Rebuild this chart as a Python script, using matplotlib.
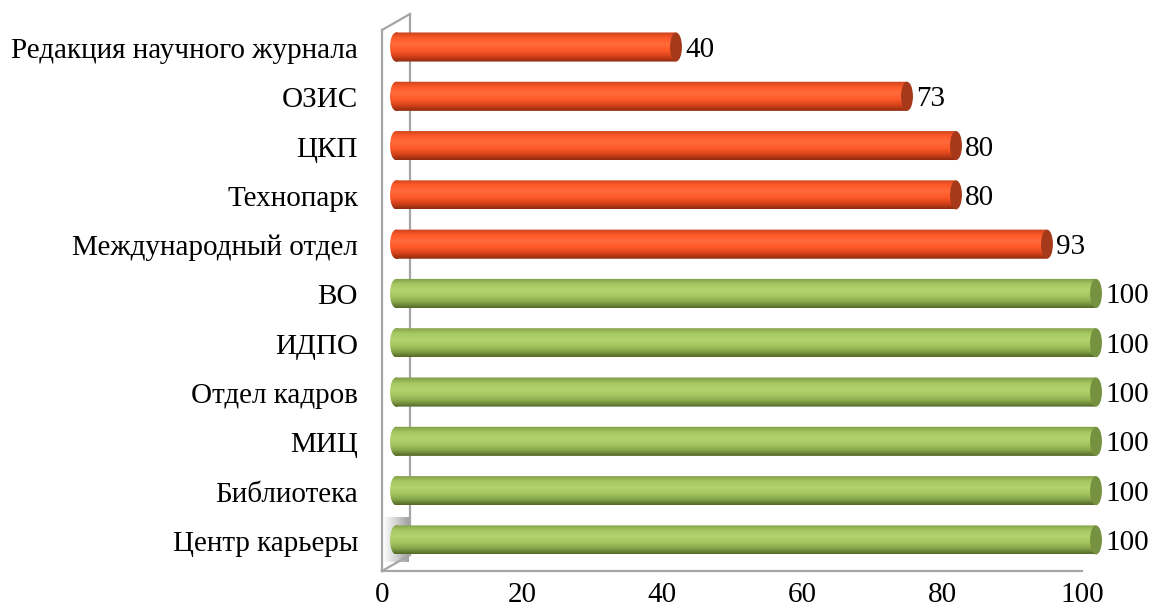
import numpy as np
import matplotlib
matplotlib.use("Agg")
import matplotlib.pyplot as plt
from matplotlib.colors import LinearSegmentedColormap
from matplotlib.patches import Ellipse, PathPatch
from matplotlib.path import Path
from matplotlib.transforms import ScaledTranslation, Affine2D, blended_transform_factory

plt.rcParams['font.family'] = ['Liberation Serif', 'DejaVu Serif']

# departments, bottom to top
labels = ['Центр карьеры', 'Библиотека', 'МИЦ', 'Отдел кадров', 'ИДПО', 'ВО',
          'Международный отдел', 'Технопарк', 'ЦКП', 'ОЗИС',
          'Редакция научного журнала']
values = [100, 100, 100, 100, 100, 100, 93, 80, 80, 73, 40]
ticks = [0, 20, 40, 60, 80, 100]

# vertical shading of the cylinders (bottom -> top), plus end-cap colour
orange_grad = ['#8f2a0e', '#d9441b', '#ff5a2a', '#ff6a3a', '#ff5a2a', '#c9421c']
orange_cap = '#a5391a'
green_grad = ['#55692a', '#88a84a', '#a6c862', '#b2d36e', '#a6c862', '#7e9a45']
green_cap = '#76913f'

W, H = 1150, 608
fig = plt.figure(figsize=(W / 100, H / 100), dpi=100)
fig.patch.set_facecolor('white')

# front plane of the chart: x 0..100 -> px 382..1082, floor at y=571
ax = fig.add_axes([382 / W, 1 - 571 / H, 742 / W, 541 / H])
ax.set_xlim(0, 106)
ax.set_ylim(-0.63, 10.345)
ax.patch.set_visible(False)
for s in ax.spines.values():
    s.set_visible(False)
ax.set_yticks([])
ax.set_xticks(ticks)
ax.set_xticklabels([str(t) for t in ticks], fontsize=21)
ax.tick_params(axis='x', length=0, pad=8)

px = lambda dx, dy: ScaledTranslation(dx / 100, dy / 100, fig.dpi_scale_trans)
bar_tr = ax.transData + px(14, 0)

bar_h = 0.59
cap_w = 1.7  # end-cap width in data units

for i, (v, lab) in enumerate(zip(values, labels)):
    green = v >= 100
    cmap = LinearSegmentedColormap.from_list('g' if green else 'o',
                                             green_grad if green else orange_grad)
    cap = green_cap if green else orange_cap
    y0, y1 = i - bar_h / 2, i + bar_h / 2

    # body: gradient clipped to rectangle + rounded left end
    grad = np.linspace(0, 1, 64).reshape(-1, 1)
    im = ax.imshow(grad, cmap=cmap, origin='lower', aspect='auto',
                   extent=[-cap_w / 2, v, y0, y1], interpolation='bilinear',
                   zorder=3)
    im.set_transform(bar_tr)
    body = Path.make_compound_path(
        Path.unit_rectangle().transformed(Affine2D().scale(v, bar_h).translate(0, y0)),
        Path.unit_circle().transformed(Affine2D().scale(cap_w / 2, bar_h / 2).translate(0, i)))
    clip = PathPatch(body, transform=bar_tr, facecolor='none', edgecolor='none')
    ax.add_patch(clip)
    im.set_clip_path(clip)

    # right end cap
    ax.add_patch(Ellipse((v, i), cap_w, bar_h, facecolor=cap, edgecolor='none',
                         transform=bar_tr, zorder=4))

    ax.text(v, i, str(v), transform=ax.transData + px(23, -3), fontsize=21,
            va='center', ha='left', zorder=5)
    ax.text(0, i, lab, transform=ax.transData + px(-24, -4), fontsize=21,
            va='center', ha='right')

# side wall and floor edge
wall = dict(color='#a6a6a6', lw=1.6, transform=ax.transAxes, clip_on=False, zorder=2)
dx_ax = 28 / 742
dy_ax = 16 / 541
ax.plot([0, 0], [0, 1], **wall)
ax.plot([0, 0], [0, 1], **{**wall, 'transform': ax.transAxes + px(28, 16)})
ax.plot([0, dx_ax], [1, 1 + dy_ax], **wall)
ax.plot([0, dx_ax], [0, dy_ax], **wall)
ax.plot([0, 100], [0, 0], **{**wall, 'transform': blended_transform_factory(ax.transData, ax.transAxes)})

# soft shadow in the wall corner
sh = np.linspace(0, 1, 32).reshape(1, -1)
ax.imshow(np.tile(sh, (16, 1)), cmap=LinearSegmentedColormap.from_list(
    's', ['#ffffff', '#c8c8c8', '#8a8a8a']), aspect='auto',
    extent=[0.2, 3.8, -0.45, 0.45], zorder=1, alpha=0.8)

fig.savefig('out.png', dpi=100)
